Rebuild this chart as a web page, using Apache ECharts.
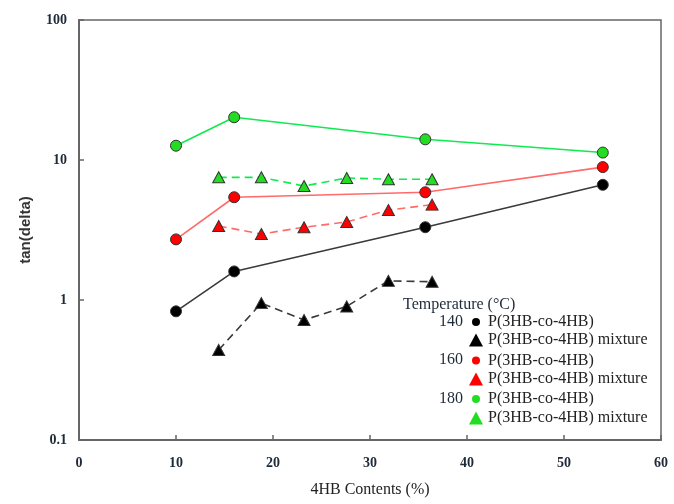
<!DOCTYPE html>
<html>
<head>
<meta charset="utf-8">
<script src="https://cdn.jsdelivr.net/npm/echarts@6/dist/echarts.min.js"></script>
<style>html,body{margin:0;padding:0;background:#fff;}#c{width:674px;height:504px;}</style>
</head>
<body>
<div id="c"></div>
<script>
// 4HB contents (%) for each series
const copolymerX = [10.0, 16.0, 35.7, 54.0];
const mixtureX = [14.4, 18.8, 23.2, 27.6, 31.9, 36.4];
// tan(delta) values
const copolymer140 = [0.83, 1.60, 3.31, 6.65];
const mixture140 = [0.44, 0.95, 0.72, 0.90, 1.37, 1.35];
const copolymer160 = [2.71, 5.42, 5.88, 8.9];
const mixture160 = [3.38, 2.96, 3.31, 3.61, 4.39, 4.80];
const copolymer180 = [12.65, 20.2, 14.05, 11.3];
const mixture180 = [7.52, 7.52, 6.52, 7.44, 7.28, 7.28];
const temperatures = ['140', '160', '180'];
const seriesNames = ['P(3HB-co-4HB)', 'P(3HB-co-4HB) mixture'];
const xTicks = [0, 10, 20, 30, 40, 50, 60];
const yTicks = [0.1, 1, 10, 100];

const zip = (xs, ys) => xs.map((x, i) => [x, ys[i]]);
const serif = 'Liberation Serif';

const lineColors = ['#3a3a3a', '#ff6a6a', '#10ea50'];
const fillColors = ['#000000', '#ff0000', '#22dd22'];

const groups = [
  [copolymer140, mixture140],
  [copolymer160, mixture160],
  [copolymer180, mixture180]
];

const series = [];
const circleLegend = [];
const triLegend = [];
groups.forEach((g, i) => {
  const nameA = temperatures[i] + ' ' + seriesNames[0];
  const nameB = temperatures[i] + ' ' + seriesNames[1];
  circleLegend.push(nameA);
  triLegend.push(nameB);
  series.push({
    name: nameA, type: 'line', data: zip(copolymerX, g[0]),
    symbol: 'circle', symbolSize: 11,
    lineStyle: { color: lineColors[i], width: 1.6 },
    itemStyle: { color: fillColors[i], borderColor: '#333', borderWidth: 1 },
    z: 3
  });
  series.push({
    name: nameB, type: 'line', data: zip(mixtureX, g[1]),
    symbol: 'triangle', symbolSize: [12, 11],
    lineStyle: { color: lineColors[i], width: 1.6, type: [8, 5] },
    itemStyle: { color: fillColors[i], borderColor: '#333', borderWidth: 1 },
    z: 3
  });
});

const chart = echarts.init(document.getElementById('c'), null, { renderer: 'canvas' });
const labelColor = '#1e2a38';
chart.setOption({
  animation: false,
  backgroundColor: '#fff',
  grid: { left: 79, right: 13, top: 20, bottom: 64, show: true, borderColor: '#666', borderWidth: 1.5 },
  xAxis: {
    type: 'value', min: 0, max: 60, interval: 10,
    name: '4HB Contents (%)', nameLocation: 'middle', nameGap: 42,
    nameTextStyle: { fontFamily: serif, fontSize: 16, color: '#222' },
    axisLine: { show: true, lineStyle: { color: '#666', width: 2 } },
    axisTick: { show: true, inside: true, length: 5, lineStyle: { color: '#666', width: 1.5 } },
    axisLabel: { margin: 16, fontFamily: serif, fontSize: 14, color: labelColor, fontWeight: 'bold',
      formatter: v => xTicks.includes(v) ? String(v) : '' },
    splitLine: { show: false }
  },
  yAxis: {
    type: 'log', logBase: 10, min: 0.1, max: 100,
    name: 'tan(delta)', nameLocation: 'middle', nameGap: 46,
    nameTextStyle: { fontFamily: 'Liberation Sans', fontSize: 15, color: '#333', fontWeight: 'bold' },
    axisLine: { show: true, lineStyle: { color: '#666', width: 2 } },
    axisTick: { show: true, inside: true, length: 5, lineStyle: { color: '#666', width: 1.5 } },
    axisLabel: { margin: 12, fontFamily: serif, fontSize: 14, color: labelColor, fontWeight: 'bold',
      formatter: v => { const m = yTicks.find(t => Math.abs(t - v) / t < 1e-6); return m !== undefined ? String(m) : ''; } },
    splitLine: { show: false }
  },
  legend: [
    {
      data: circleLegend, orient: 'vertical', left: 467, top: 309,
      itemWidth: 8, itemHeight: 8, itemGap: 22.5,
      icon: 'circle', selectedMode: false,
      itemStyle: { borderWidth: 0 },
      textStyle: { fontFamily: serif, fontSize: 16, color: '#222', padding: [0, 0, 0, 3] },
      formatter: n => n.slice(4)
    },
    {
      data: triLegend, orient: 'vertical', left: 464, top: 327,
      itemWidth: 14, itemHeight: 13, itemGap: 23,
      icon: 'triangle', selectedMode: false,
      itemStyle: { borderWidth: 0 },
      lineStyle: { width: 0 },
      textStyle: { fontFamily: serif, fontSize: 16, color: '#222' },
      formatter: n => n.slice(4)
    }
  ],
  graphic: [
    { type: 'text', left: 403, top: 297, style: { text: 'Temperature (°C)', font: '16px "Liberation Serif"', fill: '#1e2a38' } },
    { type: 'text', left: 439, top: 314, style: { text: temperatures[0], font: '16px "Liberation Serif"', fill: '#1e2a38' } },
    { type: 'text', left: 439, top: 352, style: { text: temperatures[1], font: '16px "Liberation Serif"', fill: '#1e2a38' } },
    { type: 'text', left: 439, top: 391, style: { text: temperatures[2], font: '16px "Liberation Serif"', fill: '#1e2a38' } }
  ],
  series: series
});
</script>
</body>
</html>
